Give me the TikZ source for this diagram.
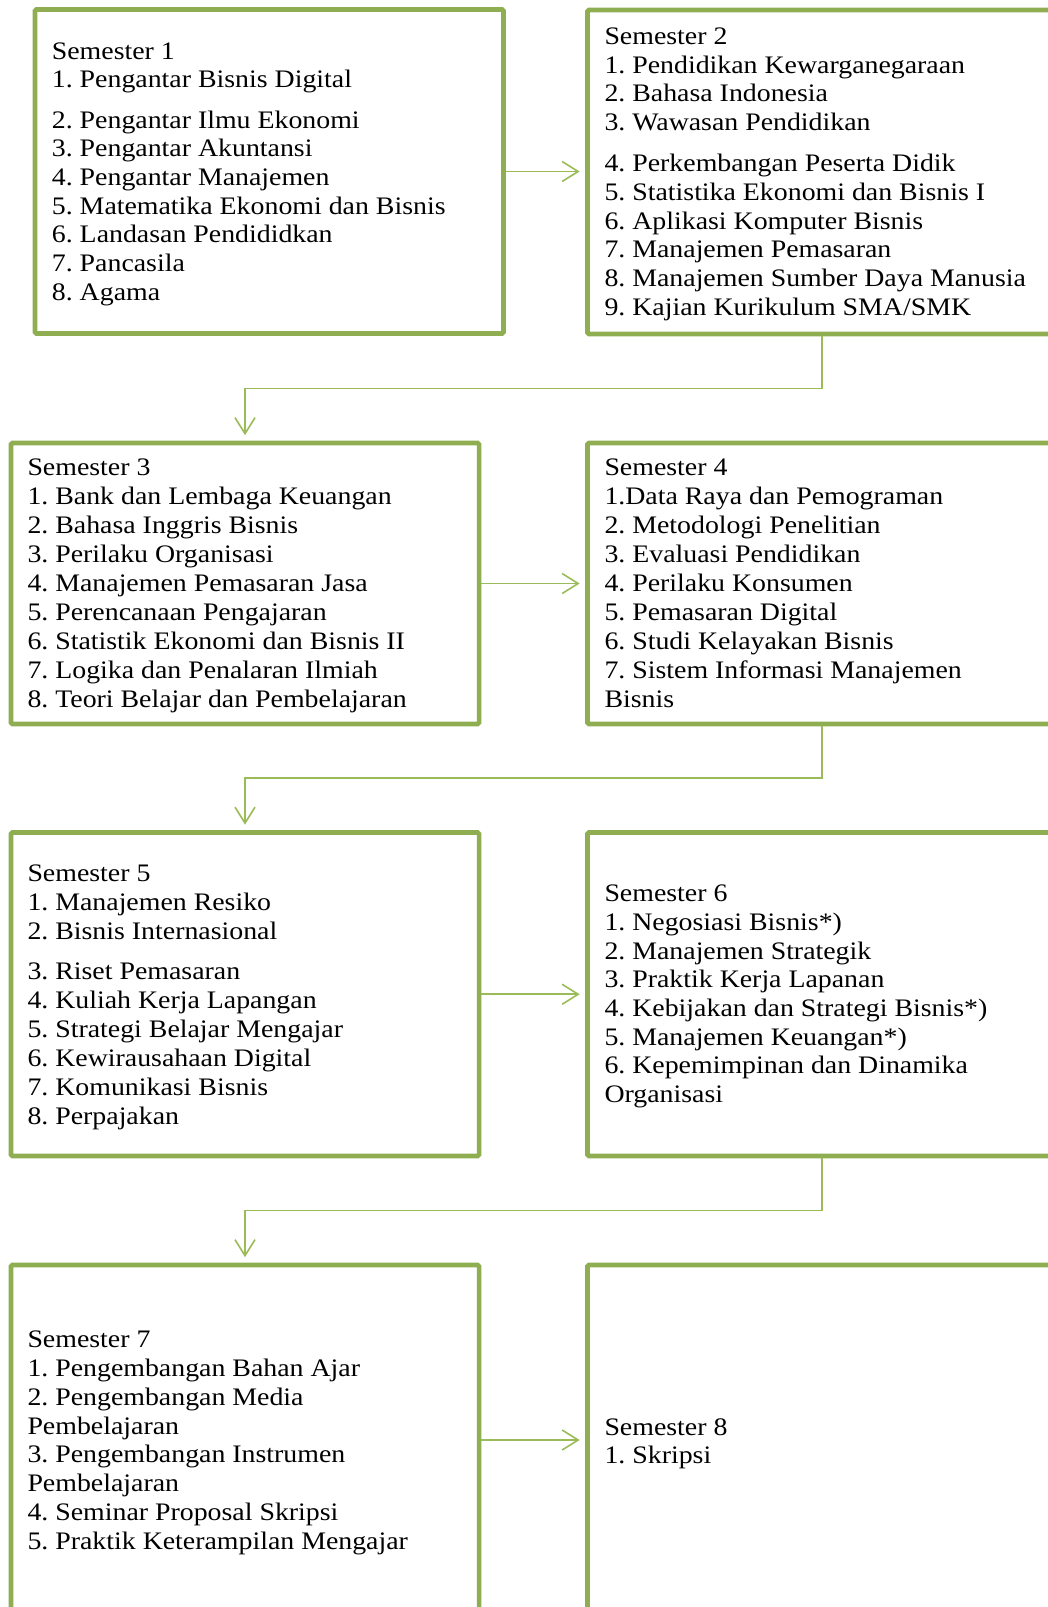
\documentclass[tikz,border=0pt]{standalone}
\usepackage{fontspec}
\setmainfont{Liberation Serif}[FakeStretch=1.105]
\frenchspacing
\usetikzlibrary{arrows.meta,calc}
\definecolor{boxgreen}{HTML}{8FAE52}
\definecolor{arrgreen}{HTML}{9BBB59}
\tikzset{
  sembox/.style={draw=boxgreen, line width=4.7pt, rounded corners=1.5pt, inner sep=0pt},
  conn/.style={draw=arrgreen, line width=1.6pt, -{Straight Barb[length=16pt,width=20pt]}, shorten >=5.5pt},
  itemtxt/.style={anchor=base west, inner sep=0pt, font=\fontsize{25.2}{29}\selectfont\frenchspacing, text=black},
}
\begin{document}
\begin{tikzpicture}[x=1pt,y=-1pt]
\useasboundingbox (0,0) rectangle (1048,1607);
\clip (0,0) rectangle (1048,1607);
\fill[white] (0,0) rectangle (1048,1607);

% boxes
\node[sembox, minimum width=468.5pt, minimum height=324pt] (b1) at (269.25,171.5) {};
\node[sembox, minimum width=469pt, minimum height=324pt] (b2) at (822,172) {};
\node[sembox, minimum width=468.2pt, minimum height=281pt] (b3) at (245,583.5) {};
\node[sembox, minimum width=469pt, minimum height=281pt] (b4) at (822,583.5) {};
\node[sembox, minimum width=468.2pt, minimum height=323.5pt] (b5) at (245,994.25) {};
\node[sembox, minimum width=469pt, minimum height=323.5pt] (b6) at (822,994.25) {};
\node[sembox, minimum width=468.2pt, minimum height=350pt] (b7) at (245,1440) {};
\node[sembox, minimum width=469pt, minimum height=350pt] (b8) at (822,1440) {};

% connectors
\draw[conn] (b1.east) -- (b1.east -| b2.west);
\draw[conn] (b2.south) |- ($(b2.south)!.5!(b3.north)$) -| (b3.north);
\draw[conn] (b3.east) -- (b3.east -| b4.west);
\draw[conn] (b4.south) |- ($(b4.south)!.5!(b5.north)$) -| (b5.north);
\draw[conn] (b5.east) -- (b5.east -| b6.west);
\draw[conn] (b6.south) |- ($(b6.south)!.5!(b7.north)$) -| (b7.north);
\draw[conn] (b7.east) -- (b7.east -| b8.west);

% texts
\foreach \yy/\lbl [count=\i] in {59.3/Semester 1, 87.5/1. Pengantar Bisnis Digital, 128/2. Pengantar Ilmu Ekonomi, 156.7/3. Pengantar Akuntansi, 185.4/4. Pengantar Manajemen, 214.1/5. Matematika Ekonomi dan Bisnis, 242.8/6. Landasan Pendididkan, 271.5/7. Pancasila, 300.2/8. Agama}
  \node[itemtxt] (ta\i) at (51.7,\yy) {\lbl};

\foreach \yy/\lbl [count=\i] in {44.3/Semester 2, 73/1. Pendidikan Kewarganegaraan, 101.7/2. Bahasa Indonesia, 130.4/3. Wawasan Pendidikan, 171.7/4. Perkembangan Peserta Didik, 200.4/5. Statistika Ekonomi dan Bisnis I, 229.1/6. Aplikasi Komputer Bisnis, 257.8/7. Manajemen Pemasaran, 286.5/8. Manajemen Sumber Daya Manusia, 315.2/{9. Kajian Kurikulum SMA/SMK}}
  \node[itemtxt] (tb\i) at (604.3,\yy) {\lbl};

\foreach \yy/\lbl [count=\i] in {475.7/Semester 3, 504.6/1. Bank dan Lembaga Keuangan, 533.6/2. Bahasa Inggris Bisnis, 562.5/3. Perilaku Organisasi, 591.5/4. Manajemen Pemasaran Jasa, 620.4/5. Perencanaan Pengajaran, 649.4/6. Statistik Ekonomi dan Bisnis II, 678.3/7. Logika dan Penalaran Ilmiah, 707.3/8. Teori Belajar dan Pembelajaran}
  \node[itemtxt] (tc\i) at (27.3,\yy) {\lbl};

\foreach \yy/\lbl [count=\i] in {475.7/Semester 4, 504.6/1.Data Raya dan Pemograman, 533.6/2. Metodologi Penelitian, 562.5/3. Evaluasi Pendidikan, 591.5/4. Perilaku Konsumen, 620.4/5. Pemasaran Digital, 649.4/6. Studi Kelayakan Bisnis, 678.3/7. Sistem Informasi Manajemen, 707.3/Bisnis}
  \node[itemtxt] (td\i) at (604.3,\yy) {\lbl};

\foreach \yy/\lbl [count=\i] in {881/Semester 5, 910/1. Manajemen Resiko, 939/2. Bisnis Internasional, 979/3. Riset Pemasaran, 1008/4. Kuliah Kerja Lapangan, 1037/5. Strategi Belajar Mengajar, 1066/6. Kewirausahaan Digital, 1095/7. Komunikasi Bisnis, 1124/8. Perpajakan}
  \node[itemtxt] (te\i) at (27.3,\yy) {\lbl};

\foreach \yy/\lbl [count=\i] in {901.7/Semester 6, 930.4/1. Negosiasi Bisnis*), 959.1/2. Manajemen Strategik, 987.8/3. Praktik Kerja Lapanan, 1016.5/4. Kebijakan dan Strategi Bisnis*), 1045.2/5. Manajemen Keuangan*), 1073.9/6. Kepemimpinan dan Dinamika, 1102.6/Organisasi}
  \node[itemtxt] (tf\i) at (604.3,\yy) {\lbl};

\foreach \yy/\lbl [count=\i] in {1347.7/Semester 7, 1376.5/1. Pengembangan Bahan Ajar, 1405.3/2. Pengembangan Media, 1434.1/Pembelajaran, 1462.9/3. Pengembangan Instrumen, 1491.7/Pembelajaran, 1520.5/4. Seminar Proposal Skripsi, 1549.3/5. Praktik Keterampilan Mengajar}
  \node[itemtxt] (tg\i) at (27.3,\yy) {\lbl};

\foreach \yy/\lbl [count=\i] in {1435/Semester 8, 1463.7/1. Skripsi}
  \node[itemtxt] (th\i) at (604.3,\yy) {\lbl};
\end{tikzpicture}
\end{document}
